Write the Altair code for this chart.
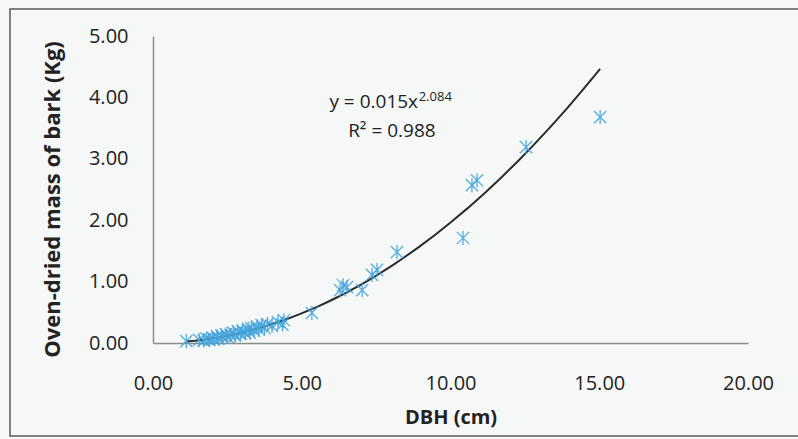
import altair as alt
import pandas as pd

# Data
dbh = [1.12, 1.55, 1.70, 1.80, 1.90, 2.00, 2.05, 2.15, 2.20, 2.30, 2.35, 2.45, 2.50,
       2.60, 2.70, 2.75, 2.85, 2.95, 3.00, 3.10, 3.20, 3.25, 3.30, 3.40, 3.50, 3.55,
       3.65, 3.75, 3.85, 4.00, 4.20, 4.35, 4.40,
       5.34, 6.29, 6.39, 6.52, 7.03, 7.36, 7.53, 8.20, 10.42, 10.72, 10.89, 12.54, 15.03]
mass = [0.03, 0.05, 0.04, 0.07, 0.055, 0.085, 0.06, 0.11, 0.075, 0.12, 0.085, 0.14, 0.10,
        0.13, 0.17, 0.12, 0.19, 0.15, 0.20, 0.16, 0.23, 0.17, 0.24, 0.20, 0.27, 0.22,
        0.29, 0.24, 0.31, 0.28, 0.34, 0.30, 0.37,
        0.49, 0.86, 0.94, 0.91, 0.86, 1.11, 1.19, 1.48, 1.71, 2.57, 2.65, 3.19, 3.68]

eq_main = ["y = 0.015x"]
eq_sup = ["2.084"]
eq_r2 = ["R\u00b2 = 0.988"]

x_ticks = [0, 5, 10, 15, 20]
y_ticks = [0, 1, 2, 3, 4, 5]

df = pd.DataFrame({"dbh": dbh, "mass": mass})

FONT = "Open Sans"
BLUE = "#45a5dc"
ASTERISK = "M-1,-1L1,1M-1,1L1,-1M0,-1.15L0,1.15"

xscale = alt.Scale(domain=[0, 20], nice=False)
yscale = alt.Scale(domain=[0, 5], nice=False)

xaxis = alt.Axis(values=x_ticks, format=".2f", title="DBH (cm)", labelPadding=30,
                 labelFlush=False, titleY=74, titleBaseline="middle")
yaxis = alt.Axis(values=y_ticks, format=".2f", title="Oven-dried mass of bark (Kg)",
                 labelPadding=25, labelFlush=False, titleX=-101, titleY=163,
                 titleAngle=270, titleAlign="center", titleBaseline="middle",
                 titleFontSize=22)

base = alt.Chart(df)

points = base.mark_point(shape=ASTERISK, size=150, filled=False, color=BLUE,
                         strokeWidth=1.3, opacity=0.9).encode(
    x=alt.X("dbh:Q", scale=xscale, axis=xaxis),
    y=alt.Y("mass:Q", scale=yscale, axis=yaxis),
)

trend = base.transform_regression("dbh", "mass", method="pow").mark_line(
    color="#2a2a2a", strokeWidth=2).encode(
    x=alt.X("dbh:Q", scale=xscale),
    y=alt.Y("mass:Q", scale=yscale),
)

ann_main = alt.Chart(pd.DataFrame({"x": [8.91], "y": [3.83], "t": eq_main})).mark_text(
    align="right", baseline="alphabetic", font=FONT, fontSize=19, color="#222").encode(
    x=alt.X("x:Q", scale=xscale), y=alt.Y("y:Q", scale=yscale), text="t:N")

ann_sup = alt.Chart(pd.DataFrame({"x": [8.93], "y": [3.94], "t": eq_sup})).mark_text(
    align="left", baseline="alphabetic", font=FONT, fontSize=13, color="#222").encode(
    x=alt.X("x:Q", scale=xscale), y=alt.Y("y:Q", scale=yscale), text="t:N")

ann_r2 = alt.Chart(pd.DataFrame({"x": [8.03], "y": [3.355], "t": eq_r2})).mark_text(
    align="center", baseline="alphabetic", font=FONT, fontSize=19, color="#222").encode(
    x=alt.X("x:Q", scale=xscale), y=alt.Y("y:Q", scale=yscale), text="t:N")

frame = alt.Chart(pd.DataFrame({"a": [0]})).mark_rect(
    fillOpacity=0, stroke="#5a5a5a", strokeWidth=1.5).encode(
    x=alt.value(-143), x2=alt.value(800), y=alt.value(-27), y2=alt.value(400))

chart = alt.layer(frame, trend, points, ann_main, ann_sup, ann_r2).properties(
    width=595, height=307,
    autosize=alt.AutoSizeParams(type="none"),
    padding={"left": 153, "top": 36, "right": 50, "bottom": 96},
    background="#f6f8f8",
).configure_view(stroke=None).configure_axis(
    grid=False, ticks=False, domainColor="#8c8c8c", domainWidth=1.5,
    labelFont=FONT, labelFontSize=20, labelColor="#222",
    titleFont=FONT, titleFontSize=20, titleFontWeight="bold", titleColor="#222",
)

chart.save("out.html", embed_options={"renderer": "svg", "actions": False})
